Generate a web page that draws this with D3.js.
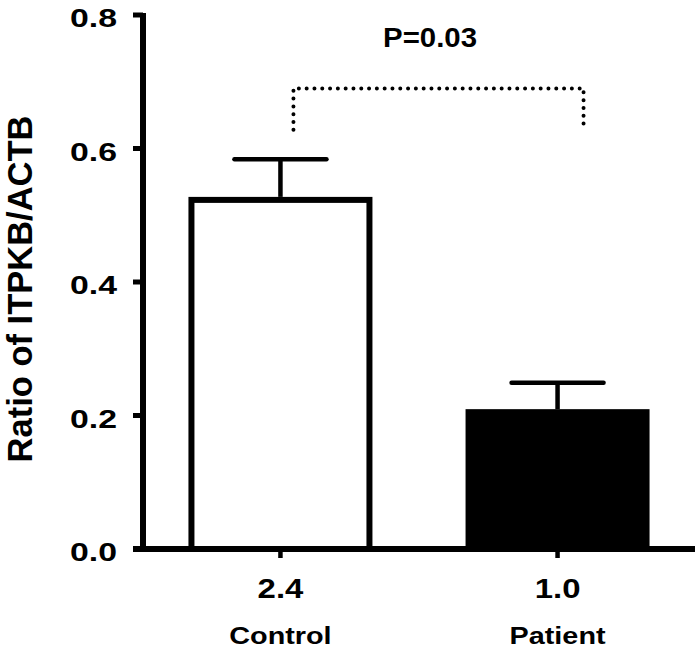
<!DOCTYPE html>
<html lang="en">
<head>
  <meta charset="UTF-8">
  <title>ITPKB / ACTB ratio</title>
  <script src="https://d3js.org/d3.v7.min.js"></script>
  <style>
    body { margin: 0; background: #fff; }
    text { font-family: "Liberation Sans", Arial, sans-serif; font-weight: bold; fill: #000; }
  </style>
</head>
<body>
  <div id="chart"></div>
  <script>
    // data
    const categories = ['Control', 'Patient'];
    const foldLabels = ['2.4', '1.0'];
    const means = [0.523, 0.205];
    const errors = [0.061, 0.044];
    const barFills = ['#fff', '#000'];
    const yTicks = [0, 0.2, 0.4, 0.6, 0.8];
    const pLabel = 'P=0.03';

    const W = 698, H = 650;
    const svg = d3.select('#chart').append('svg')
      .attr('width', W).attr('height', H);

    const x = d3.scaleBand().domain(categories).range([143, 695])
      .paddingInner(0.336).paddingOuter(0.164);
    const y = d3.scaleLinear().domain([0, 0.8]).range([549, 15]);

    // bars
    svg.selectAll('rect.bar').data(categories).enter().append('rect')
      .attr('class', 'bar')
      .attr('x', d => x(d) + 3)
      .attr('width', x.bandwidth() - 6)
      .attr('y', (d, i) => y(means[i]))
      .attr('height', (d, i) => y(0) - y(means[i]))
      .attr('fill', (d, i) => barFills[i])
      .attr('stroke', '#000').attr('stroke-width', 6);

    // error bars
    const cx = d => x(d) + x.bandwidth() / 2;
    const capHalf = 46;
    svg.selectAll('line.stem').data(categories).enter().append('line')
      .attr('x1', cx).attr('x2', cx)
      .attr('y1', (d, i) => y(means[i]) - 3)
      .attr('y2', (d, i) => y(means[i] + errors[i]))
      .attr('stroke', '#000').attr('stroke-width', 4.5);
    svg.selectAll('line.cap').data(categories).enter().append('line')
      .attr('x1', d => cx(d) - capHalf).attr('x2', d => cx(d) + capHalf)
      .attr('y1', (d, i) => y(means[i] + errors[i]))
      .attr('y2', (d, i) => y(means[i] + errors[i]))
      .attr('stroke', '#000').attr('stroke-width', 4.5)
      .attr('stroke-linecap', 'round');

    // y axis
    svg.append('line')
      .attr('x1', 143).attr('x2', 143)
      .attr('y1', y(0.8) - 2).attr('y2', y(0))
      .attr('stroke', '#000').attr('stroke-width', 6);
    svg.selectAll('line.ytick').data(yTicks).enter().append('line')
      .attr('x1', 133).attr('x2', 143)
      .attr('y1', d => y(d)).attr('y2', d => y(d))
      .attr('stroke', '#000').attr('stroke-width', 5);
    svg.selectAll('text.ylab').data(yTicks).enter().append('text')
      .attr('text-anchor', 'end')
      .attr('font-size', 26)
      .attr('transform', d => `translate(117,${y(d) + 12}) scale(1.3,1)`)
      .text(d => d.toFixed(1));

    // x axis
    svg.append('line')
      .attr('x1', 133).attr('x2', 695)
      .attr('y1', y(0)).attr('y2', y(0))
      .attr('stroke', '#000').attr('stroke-width', 6);
    svg.selectAll('line.xtick').data(categories).enter().append('line')
      .attr('x1', cx).attr('x2', cx)
      .attr('y1', y(0)).attr('y2', y(0) + 9)
      .attr('stroke', '#000').attr('stroke-width', 4.5);
    svg.selectAll('text.fold').data(categories).enter().append('text')
      .attr('text-anchor', 'middle')
      .attr('font-size', 27)
      .attr('transform', d => `translate(${cx(d)},598) scale(1.22,1)`)
      .text((d, i) => foldLabels[i]);
    svg.selectAll('text.cat').data(categories).enter().append('text')
      .attr('text-anchor', 'middle')
      .attr('font-size', 24)
      .attr('transform', d => `translate(${cx(d)},644) scale(1.2,1)`)
      .text(d => d);

    // y title
    svg.append('text')
      .attr('text-anchor', 'middle')
      .attr('font-size', 34.5)
      .attr('transform', 'translate(32,289) rotate(-90)')
      .text('Ratio of ITPKB/ACTB');

    // significance bracket
    const bx0 = cx('Control') + 13, bx1 = cx('Patient') + 26;
    svg.append('path')
      .attr('d', `M${bx0},${y(0.628)} V${y(0.69)} H${bx1} V${y(0.628)}`)
      .attr('fill', 'none').attr('stroke', '#000').attr('stroke-width', 4)
      .attr('stroke-linecap', 'round').attr('stroke-dasharray', '0 7.8');
    svg.append('text')
      .attr('text-anchor', 'middle')
      .attr('font-size', 28)
      .attr('transform', `translate(430,47) scale(1.05,1)`)
      .text(pLabel);
  </script>
</body>
</html>
